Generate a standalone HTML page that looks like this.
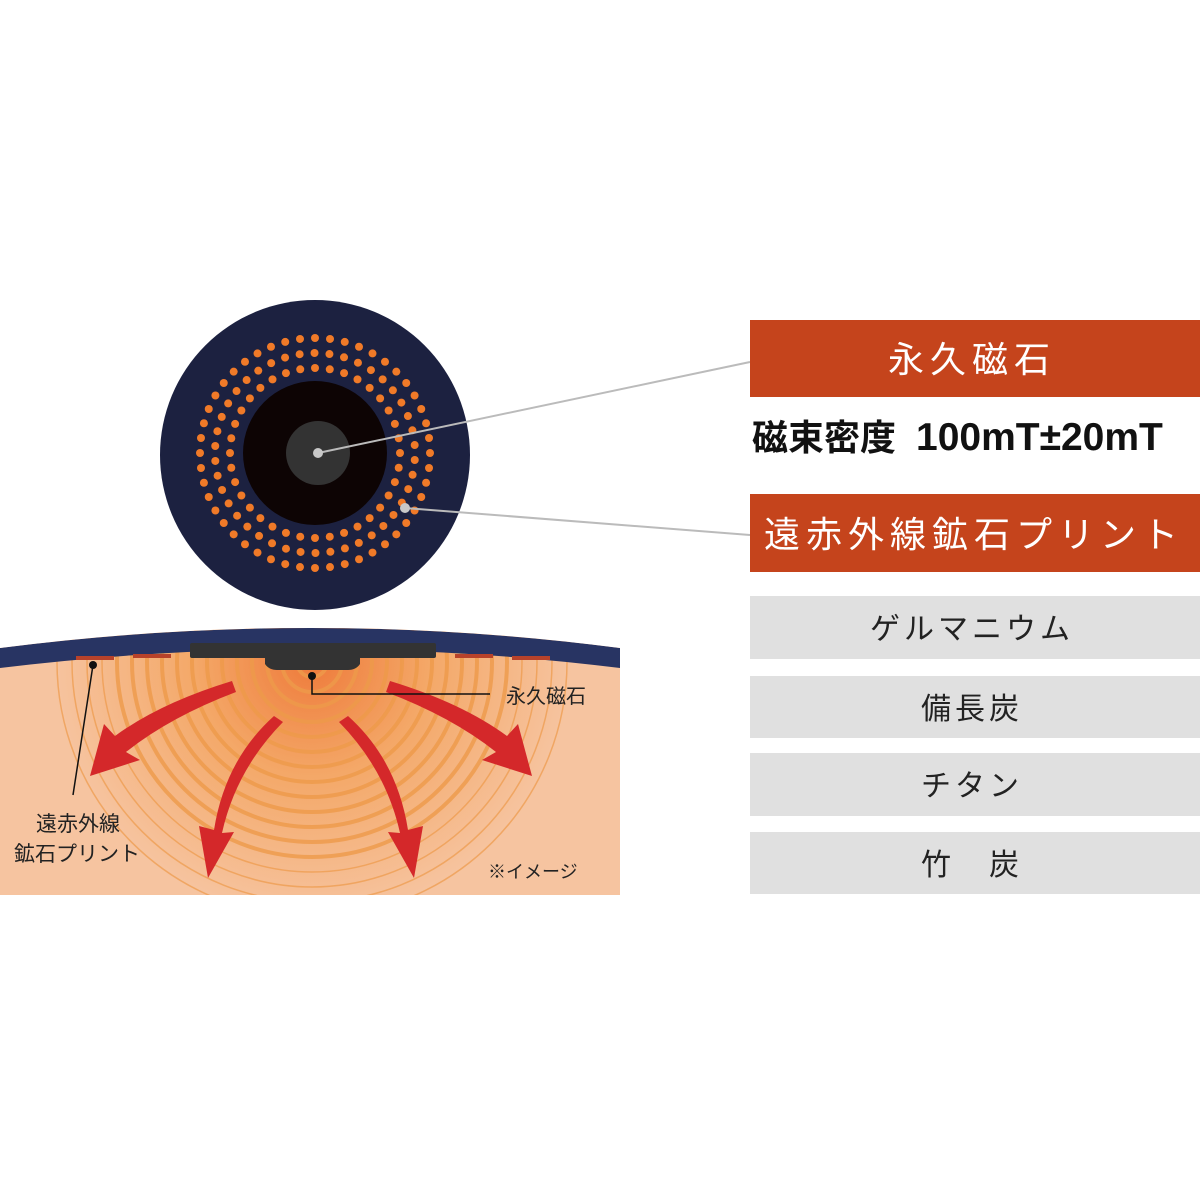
<!DOCTYPE html>
<html><head><meta charset="utf-8"><style>
html,body{margin:0;padding:0;background:#fff;width:1200px;height:1200px;overflow:hidden}
svg{display:block}
text{font-family:"Liberation Sans","Noto Sans CJK JP",sans-serif}
</style></head><body>
<svg id="s" width="1200" height="1200" viewBox="0 0 1200 1200" xmlns="http://www.w3.org/2000/svg">
<defs>
<radialGradient id="glow" cx="312" cy="660" r="260" gradientUnits="userSpaceOnUse">
<stop offset="0" stop-color="#ee7a3a"/><stop offset="0.45" stop-color="#f4a868"/><stop offset="1" stop-color="#f6c4a0"/>
</radialGradient>
<clipPath id="bc"><path d="M0,648 Q312,608 620,648 L620,895 L0,895 Z"/></clipPath>
</defs>
<g clip-path="url(#bc)">
<rect x="0" y="600" width="620" height="295" fill="#f6c4a0"/>
<circle cx="312" cy="660" r="260" fill="url(#glow)"/>
<g id="arcs" fill="none" stroke="#ee9a4a"></g>
<path d="M0,648 Q312,608 620,648 L620,668 Q312,630 0,668 Z" fill="#283463"/>
</g>
<g fill="#b8422a">
<rect x="76" y="656" width="38" height="4"/><rect x="133" y="654" width="38" height="4"/>
<rect x="455" y="654" width="38" height="4"/><rect x="512" y="656" width="38" height="4"/>
</g>
<rect x="190" y="643" width="246" height="15" rx="2" fill="#333"/>
<path d="M265,655 L360,655 L360,664 Q356,670 348,670 L277,670 Q269,670 265,664 Z" fill="#333"/>
<g fill="#d4282a">
<path d="M232,681 Q160,703 115,736 L104,724 L90,776 L140,760 L126,752 Q170,717 236,692 Z"/>
<path d="M274,716 Q225,760 214,830 L199,826 L208,878 L234,832 L222,833 Q236,770 283,722 Z"/>
<path d="M348,716 Q397,760 408,830 L423,826 L414,878 L388,832 L400,833 Q386,770 339,722 Z"/>
<path d="M390,681 Q462,703 507,736 L518,724 L532,776 L482,760 L496,752 Q452,717 386,692 Z"/>
</g>
<circle cx="312" cy="676" r="4" fill="#111"/>
<polyline points="312,676 312,694 490,694" fill="none" stroke="#111" stroke-width="1.5"/>
<text x="506" y="703" font-size="20" fill="#222">永久磁石</text>
<circle cx="93" cy="665" r="4" fill="#111"/>
<line x1="93" y1="665" x2="73" y2="795" stroke="#111" stroke-width="1.5"/>
<text x="36" y="831" font-size="21" fill="#222">遠赤外線</text>
<text x="14" y="861" font-size="21" fill="#222">鉱石プリント</text>
<text x="488" y="878" font-size="18" fill="#222">※イメージ</text>
<circle cx="315" cy="455" r="155" fill="#1c2140"/>
<g id="dots" fill="#f07a28"></g>
<circle cx="315" cy="453" r="72" fill="#0d0404"/>
<circle cx="318" cy="453" r="32" fill="#333"/>
<line x1="318" y1="453" x2="750" y2="362" stroke="#bbb" stroke-width="2"/>
<line x1="405" y1="508" x2="750" y2="535" stroke="#bbb" stroke-width="2"/>
<circle cx="318" cy="453" r="5" fill="#c8c8c8"/>
<circle cx="405" cy="508" r="5" fill="#c8c8c8"/>
<rect x="750" y="320" width="450" height="77" fill="#c5441c"/>
<text x="972" y="372" font-size="36" fill="#fff" text-anchor="middle" letter-spacing="6">永久磁石</text>
<text x="752" y="450" font-weight="bold" fill="#111"><tspan font-size="36">磁束密度</tspan><tspan x="916" font-size="39">100mT±20mT</tspan></text>
<rect x="750" y="494" width="450" height="78" fill="#c5441c"/>
<text x="764" y="547" font-size="36" fill="#fff" letter-spacing="6">遠赤外線鉱石プリント</text>
<g fill="#e0e0e0">
<rect x="750" y="596" width="450" height="63"/><rect x="750" y="676" width="450" height="62"/>
<rect x="750" y="753" width="450" height="63"/><rect x="750" y="832" width="450" height="62"/>
</g>
<g font-size="30" fill="#222" text-anchor="middle" letter-spacing="4">
<text x="972" y="639">ゲルマニウム</text>
<text x="972" y="719">備長炭</text>
<text x="972" y="796">チタン</text>
<text x="972" y="875">竹　炭</text>
</g>
</svg>
<script>
var ns="http://www.w3.org/2000/svg";
var d=document.getElementById("dots");
[[115,48,0],[100,42,0.07],[85,36,0.0]].forEach(function(r){
for(var i=0;i<r[1];i++){var a=2*Math.PI*i/r[1]+r[2];
var c=document.createElementNS(ns,"circle");c.setAttribute("cx",315+r[0]*Math.cos(a));c.setAttribute("cy",453+r[0]*Math.sin(a));c.setAttribute("r",4);d.appendChild(c);}});
var g=document.getElementById("arcs");
for(var k=1;k<=17;k++){var c=document.createElementNS(ns,"circle");c.setAttribute("cx",312);c.setAttribute("cy",662);c.setAttribute("r",k*15);
c.setAttribute("stroke-width",k<14?4:1.5);c.setAttribute("opacity",k<14?0.8:0.7);g.appendChild(c);}
</script>
</body></html>
